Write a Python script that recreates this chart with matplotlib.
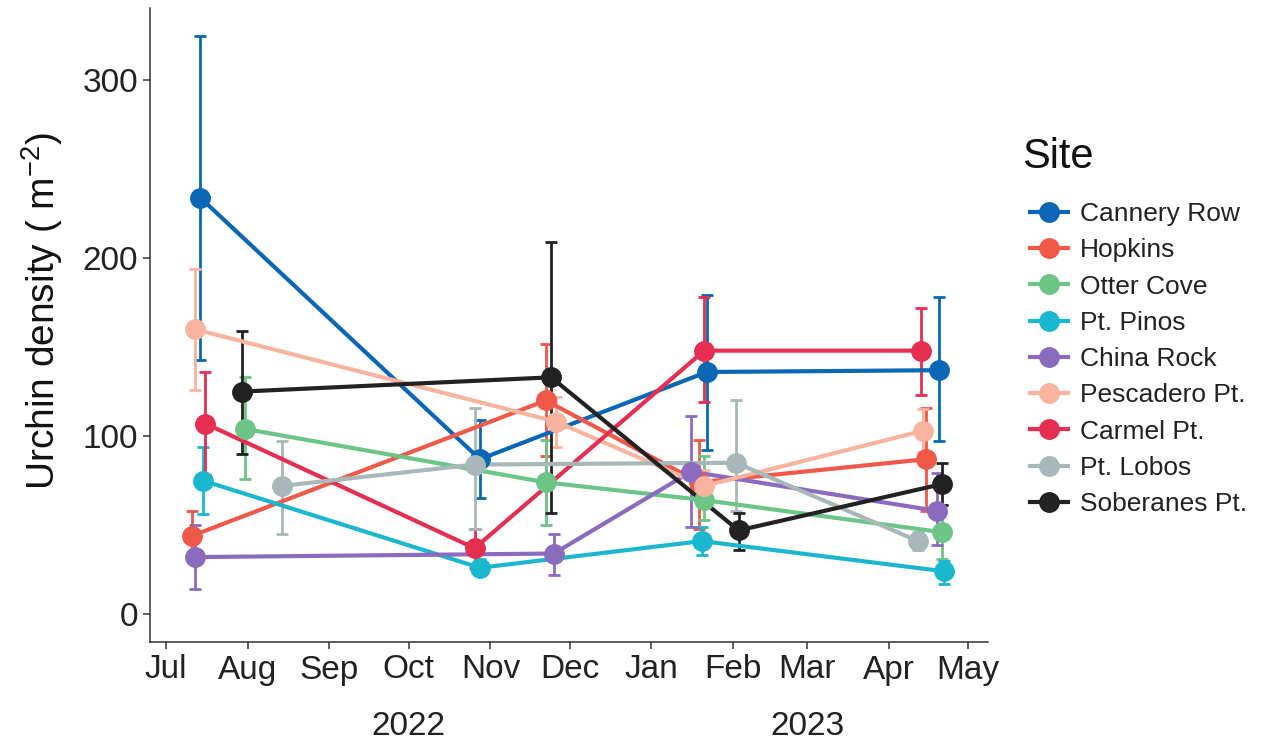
import numpy as np
import pandas as pd
import matplotlib
matplotlib.use('Agg')
import matplotlib.pyplot as plt
import matplotlib.dates as mdates
from matplotlib.lines import Line2D

plt.rcParams['font.family'] = ['Liberation Sans', 'DejaVu Sans']
plt.rcParams['mathtext.fontset'] = 'custom'
plt.rcParams['mathtext.rm'] = 'Liberation Sans'
plt.rcParams['mathtext.it'] = 'Liberation Sans:italic'

# Datos
sitios = ['Cannery Row', 'Hopkins', 'Otter Cove', 'Pt. Pinos', 'China Rock',
          'Pescadero Pt.', 'Carmel Pt.', 'Pt. Lobos', 'Soberanes Pt.']

fechas = [
    ['2022-07-14', '2022-10-28', '2023-01-22', '2023-04-20'],
    ['2022-07-11', '2022-11-22', '2023-01-19', '2023-04-15'],
    ['2022-07-31', '2022-11-22', '2023-01-21', '2023-04-21'],
    ['2022-07-15', '2022-10-28', '2023-01-20', '2023-04-22'],
    ['2022-07-12', '2022-11-25', '2023-01-16', '2023-04-19'],
    ['2022-07-12', '2022-11-26', '2023-01-21', '2023-04-14'],
    ['2022-07-16', '2022-10-26', '2023-01-21', '2023-04-13'],
    ['2022-08-14', '2022-10-26', '2023-02-02', '2023-04-12'],
    ['2022-07-30', '2022-11-24', '2023-02-03', '2023-04-21'],
]

media = [
    [234, 87, 136, 137],
    [44, 120, 74, 87],
    [104, 74, 64, 46],
    [75, 26, 41, 24],
    [32, 34, 80, 58],
    [160, 108, 72, 103],
    [107, 37, 148, 148],
    [72, 84, 85, 41],
    [125, 133, 47, 73],
]

inferior = [
    [143, 65, 92, 97],
    [31, 89, 48, 58],
    [76, 50, 53, 31],
    [56, 22, 33, 17],
    [14, 22, 49, 39],
    [126, 94, 63, 91],
    [78, 26, 119, 123],
    [45, 48, 58, 36],
    [90, 57, 36, 61],
]

superior = [
    [325, 109, 179, 178],
    [58, 152, 98, 116],
    [133, 98, 89, 61],
    [94, 31, 49, 30],
    [50, 45, 111, 79],
    [194, 122, 81, 115],
    [136, 48, 178, 172],
    [97, 116, 120, 46],
    [159, 209, 57, 85],
]

colores = ['#0a67b5', '#f0584a', '#6cc486', '#1bb7cf', '#8b6bbd',
           '#f8b49e', '#e52e50', '#a8b8b8', '#222222']

W, H = 1263, 740
fig = plt.figure(figsize=(W / 100, H / 100), dpi=100)
ax = fig.add_axes([150 / W, 1 - 642 / H, (988 - 150) / W, (642 - 8) / H])

for i, sitio in enumerate(sitios):
    x = pd.to_datetime(fechas[i])
    y = np.array(media[i])
    err = [y - np.array(inferior[i]), np.array(superior[i]) - y]
    ax.errorbar(x, y, yerr=err, fmt='none', ecolor=colores[i], elinewidth=2,
                capsize=4, capthick=2, zorder=2)
    ax.plot(x, y, color=colores[i], lw=3, zorder=3)
    ax.plot(x, y, 'o', color=colores[i], ms=14, zorder=4)

ax.set_xlim(pd.Timestamp('2022-06-25'), pd.Timestamp('2023-05-08 12:00'))
ax.set_ylim(-15.7, 340.5)
ax.set_yticks([0, 100, 200, 300])

ax.xaxis.set_major_locator(mdates.MonthLocator())
ax.xaxis.set_major_formatter(mdates.DateFormatter('%b'))

for lado in ['top', 'right']:
    ax.spines[lado].set_visible(False)
for lado in ['left', 'bottom']:
    ax.spines[lado].set_color('#333333')
    ax.spines[lado].set_linewidth(1.1)

ax.tick_params(axis='both', labelsize=24, colors='#333333', length=5, width=1.1,
               labelcolor='#222222')
ax.tick_params(axis='x', pad=4)
ax.set_ylabel('Urchin density ( m$^{-2}$)', fontsize=28, color='#111111')
ax.yaxis.set_label_coords(-0.102, 0.522)

# Años bajo los meses
trans = ax.get_xaxis_transform()
ax.text(pd.Timestamp('2022-10-01'), -(735 - 642) / 634, '2022', transform=trans,
        ha='center', va='baseline', fontsize=24, color='#222222')
ax.text(pd.Timestamp('2023-03-01'), -(735 - 642) / 634, '2023', transform=trans,
        ha='center', va='baseline', fontsize=24, color='#222222')

# Leyenda
fig.text(1022 / W, 1 - 168 / H, 'Site', fontsize=30, color='#111111',
         ha='left', va='baseline')
handles = [Line2D([0], [0], color=c, lw=3, marker='o', ms=14) for c in colores]
leg = fig.legend(handles, sitios, loc='upper left',
                 bbox_to_anchor=(1030 / W, 1 - 202 / H), frameon=False,
                 fontsize=19, handlelength=1.45, borderpad=0, borderaxespad=0,
                 labelspacing=0.465, handletextpad=0.45)
for t in leg.get_texts():
    t.set_color('#222222')

fig.savefig('out.png', dpi=100)
